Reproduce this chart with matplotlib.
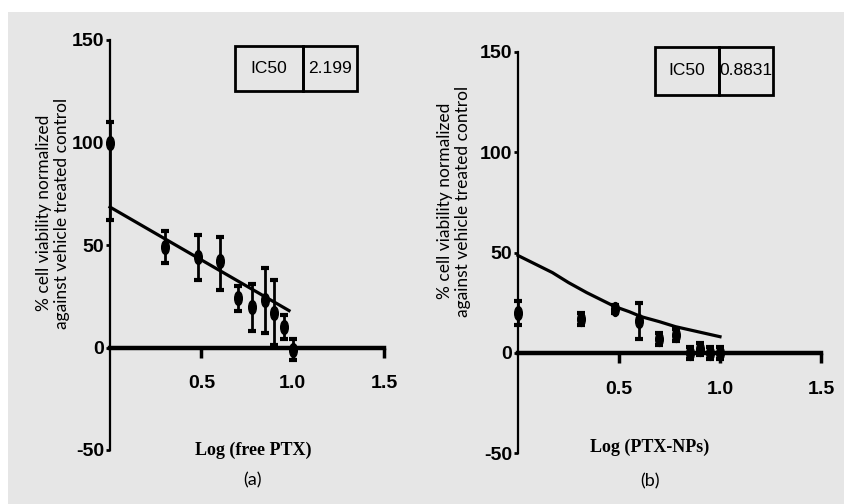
import matplotlib.pyplot as plt
import numpy as np
from matplotlib.patches import Rectangle
from matplotlib.path import Path
from matplotlib.transforms import Affine2D

plt.rcParams['axes.unicode_minus'] = False

# panel (a): free PTX
log_free = [0.0, 0.30, 0.48, 0.60, 0.70, 0.78, 0.85, 0.90, 0.95, 1.00]
via_free = [100, 49, 44, 42, 24, 20, 23, 17, 10, -1]
err_lo_free = [38, 8, 11, 14, 6, 12, 16, 16, 6, 5]
err_hi_free = [10, 8, 11, 12, 6, 11, 16, 16, 6, 5]
fit_x_free = [0.0, 0.98]
fit_y_free = [68.5, 18]

# panel (b): PTX-NPs
log_np = [0.0, 0.31, 0.48, 0.60, 0.70, 0.78, 0.85, 0.90, 0.95, 1.00]
via_np = [20, 17, 22, 16, 7, 9, 0, 2, 0, 0]
err_np = [6, 3, 2, 9, 3, 3, 3, 3, 3, 3]
fit_x_np = [0.0, 0.08, 0.17, 0.25, 0.34, 0.41, 0.48, 0.55, 0.61, 0.70, 0.78, 0.89, 1.0]
fit_y_np = [48.5, 44.5, 40, 35, 30, 26.5, 23, 20.5, 18, 15.5, 13, 10.5, 8]

ic50_free = "2.199"
ic50_np = "0.8831"

yticks = [-50, 0, 50, 100, 150]
xticks = [0.5, 1.0, 1.5]
ylab = "% cell viability normalized\nagainst vehicle treated control"

W, H = 845, 504
fig = plt.figure(figsize=(8.45, 5.04), dpi=100)
fig.patch.set_facecolor('white')
fig.add_artist(Rectangle((8 / W, 0), 1, (H - 12) / H, transform=fig.transFigure,
                         facecolor='#e6e6e6', edgecolor='none', zorder=-10))

# tall ellipse marker
ell = Path.unit_circle().transformed(Affine2D().scale(0.55, 1.0))

tickfont = ['Liberation Sans', 'DejaVu Sans']


def px_axes(l, r, b, t):
    return fig.add_axes([l / W, 1 - b / H, (r - l) / W, (b - t) / H])


def style(ax):
    ax.set_facecolor('none')
    ax.set_xlim(0, 1.5)
    ax.set_ylim(-50, 150)
    for s in ['top', 'right']:
        ax.spines[s].set_visible(False)
    ax.spines['left'].set_position(('data', 0))
    ax.spines['bottom'].set_position(('data', 0))
    ax.spines['left'].set_linewidth(1.6)
    ax.spines['bottom'].set_linewidth(3.2)
    ax.set_yticks(yticks)
    ax.set_xticks(xticks)
    ax.set_xticklabels(['0.5', '1.0', '1.5'])
    ax.tick_params(axis='y', direction='out', length=3, width=2, pad=1)
    ax.tick_params(axis='x', direction='out', length=7, width=2.5, pad=13)
    for lab in ax.get_xticklabels() + ax.get_yticklabels():
        lab.set_family(tickfont)
        lab.set_fontweight('bold')
        lab.set_fontsize(14)


def ic50_table(ax, val, bbox, cw):
    t = ax.table(cellText=[['IC50', val]], bbox=bbox, colWidths=cw, cellLoc='center')
    t.auto_set_font_size(False)
    for c in t.get_celld().values():
        c.set_linewidth(2)
        c.set_facecolor('none')
        c.PAD = 0.02
        c.get_text().set_fontsize(12.5)
        c.get_text().set_family(tickfont)


# ---- panel (a)
ax1 = px_axes(110, 384, 450, 40)
style(ax1)
ax1.plot(fit_x_free, fit_y_free, color='black', lw=2.3, clip_on=False)
ax1.errorbar(log_free, via_free, yerr=[err_lo_free, err_hi_free], fmt='none',
             ecolor='black', elinewidth=2, capsize=3, capthick=3, clip_on=False)
ax1.plot(log_free, via_free, ls='none', marker=ell, ms=10, color='black', clip_on=False)
ic50_table(ax1, ic50_free, [0.456, 0.876, 0.445, 0.11], [0.557, 0.443])

# ---- panel (b)
ax2 = px_axes(518, 821, 453, 52)
style(ax2)
ax2.plot(fit_x_np, fit_y_np, color='black', lw=2.3, clip_on=False)
ax2.errorbar(log_np, via_np, yerr=err_np, fmt='none',
             ecolor='black', elinewidth=2, capsize=3, capthick=3, clip_on=False)
ax2.plot(log_np, via_np, ls='none', marker=ell, ms=10, color='black', clip_on=False)
ic50_table(ax2, ic50_np, [0.452, 0.893, 0.39, 0.12], [0.542, 0.458])

# labels
fig.text(53 / W, 1 - 213 / H, ylab, rotation=90, ha='center', va='center',
         fontsize=12.5, family=['Lato', 'DejaVu Sans'], linespacing=1.1)
fig.text(454 / W, 1 - 201 / H, ylab, rotation=90, ha='center', va='center',
         fontsize=12.5, family=['Lato', 'DejaVu Sans'], linespacing=1.1)
fig.text(253 / W, 1 - 450 / H, 'Log (free PTX)', ha='center', va='center',
         fontsize=13, fontweight='bold', family=['Liberation Serif', 'DejaVu Serif'])
fig.text(650 / W, 1 - 447 / H, 'Log (PTX-NPs)', ha='center', va='center',
         fontsize=13, fontweight='bold', family=['Liberation Serif', 'DejaVu Serif'])
fig.text(253 / W, 1 - 480 / H, '(a)', ha='center', va='center',
         fontsize=13, family=['Lato', 'DejaVu Sans'])
fig.text(650 / W, 1 - 481 / H, '(b)', ha='center', va='center',
         fontsize=13, family=['Lato', 'DejaVu Sans'])

fig.savefig('out.png', dpi=100)
